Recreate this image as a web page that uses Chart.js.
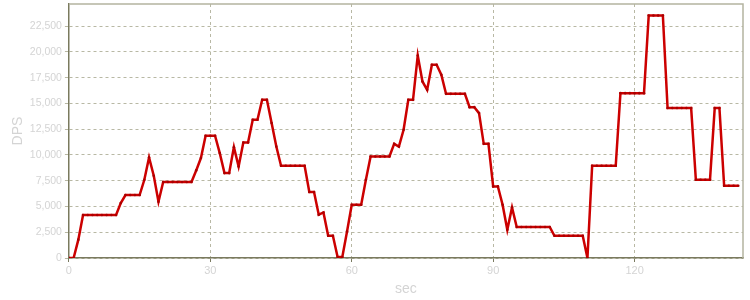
<!DOCTYPE html>
<html>
<head>
<meta charset="utf-8">
<script src="https://cdn.jsdelivr.net/npm/chart.js@4/dist/chart.umd.min.js"></script>
<style>
  html, body { margin: 0; padding: 0; background: #fff; }
</style>
</head>
<body>
<canvas id="dpsChart" width="750" height="300"></canvas>
<script>
// seconds 0..142, one sample each
var dps = [
    0, 0, 1780, 4170, 4170, 4170, 4170, 4170, 4170, 4170,
    4170, 5330, 6110, 6110, 6110, 6110, 7590, 9760, 7980, 5460,
    7370, 7370, 7370, 7370, 7370, 7370, 7370, 8500, 9700, 11860,
    11860, 11860, 10180, 8240, 8240, 10760, 8880, 11210, 11210, 13410,
    13410, 15350, 15350, 13090, 10820, 8950, 8950, 8950, 8950, 8950,
    8950, 6400, 6400, 4200, 4420, 2160, 2160, 100, 100, 2580,
    5170, 5170, 5170, 7600, 9850, 9850, 9850, 9850, 9850, 11080,
    10820, 12440, 15350, 15350, 19650, 17130, 16320, 18750, 18750, 17780,
    15930, 15930, 15930, 15930, 15930, 14640, 14640, 14060, 11080, 11080,
    6950, 6950, 5170, 2740, 4910, 3010, 3010, 3010, 3010, 3010,
    3010, 3010, 3010, 2160, 2160, 2160, 2160, 2160, 2160, 2160,
    0, 8950, 8950, 8950, 8950, 8950, 8950, 16000, 16000, 16000,
    16000, 16000, 16000, 23530, 23530, 23530, 23530, 14550, 14550, 14550,
    14550, 14550, 14550, 7590, 7590, 7590, 7590, 14550, 14550, 7010,
    7010, 7010, 7010
];
var xTicks = [0, 30, 60, 90, 120];
var yTicks = [0, 2500, 5000, 7500, 10000, 12500, 15000, 17500, 20000, 22500];

var points = dps.map(function (v, i) { return {x: i, y: v}; });

const gridColor = '#b8b8a4';
const labelColor = '#d4d4d4';

// light frame on the top and right of the plot
const frame = {
    id: 'frame',
    afterDraw: function (chart) {
        var a = chart.chartArea, c = chart.ctx;
        c.save();
        c.strokeStyle = '#b4b4a0';
        c.lineWidth = 1.5;
        c.beginPath();
        c.moveTo(a.left, a.top);
        c.lineTo(a.right, a.top);
        c.lineTo(a.right, a.bottom);
        c.stroke();
        c.restore();
    }
};

new Chart(document.getElementById('dpsChart'), {
    type: 'line',
    data: {
        datasets: [{
            data: points,
            borderColor: '#cc0000',
            borderWidth: 2.5,
            pointRadius: 1.3,
            pointBackgroundColor: '#a80000',
            pointBorderWidth: 0,
            tension: 0,
            fill: false
        }]
    },
    options: {
        responsive: false,
        animation: false,
        layout: { padding: { left: 10, right: 7, top: 4, bottom: 2 } },
        plugins: {
            legend: { display: false },
            tooltip: { enabled: false }
        },
        scales: {
            x: {
                type: 'linear',
                min: 0,
                max: 143,
                afterBuildTicks: function (axis) {
                    axis.ticks = xTicks.map(function (v) { return {value: v}; });
                },
                ticks: {
                    color: labelColor,
                    font: { family: 'Liberation Sans, Arial', size: 11 },
                    padding: 2,
                    maxRotation: 0
                },
                grid: { color: gridColor, tickLength: 4, tickColor: '#7a7a60' },
                border: { color: '#7a7a5e', width: 1.5, dash: [3, 3] },
                title: {
                    display: true,
                    text: 'sec',
                    color: labelColor,
                    font: { family: 'Liberation Sans, Arial', size: 14 },
                    padding: { top: 2, bottom: 0 }
                }
            },
            y: {
                min: 0,
                max: 24650,
                afterBuildTicks: function (axis) {
                    axis.ticks = yTicks.map(function (v) { return {value: v}; });
                },
                afterFit: function (axis) {
                    // top label sits below the plot top, no room needed
                    axis.paddingTop = 0;
                },
                ticks: {
                    color: labelColor,
                    font: { family: 'Liberation Sans, Arial', size: 10.5 },
                    padding: 3,
                    callback: function (v) { return v.toLocaleString('en-US'); }
                },
                grid: { color: gridColor, tickLength: 4, tickColor: gridColor },
                border: { color: '#7a7a5e', width: 1.5, dash: [3, 3] },
                title: {
                    display: true,
                    text: 'DPS',
                    color: labelColor,
                    font: { family: 'Liberation Sans, Arial', size: 14 },
                    padding: { top: 0, bottom: 0 }
                }
            }
        }
    },
    plugins: [frame]
});
</script>
</body>
</html>
